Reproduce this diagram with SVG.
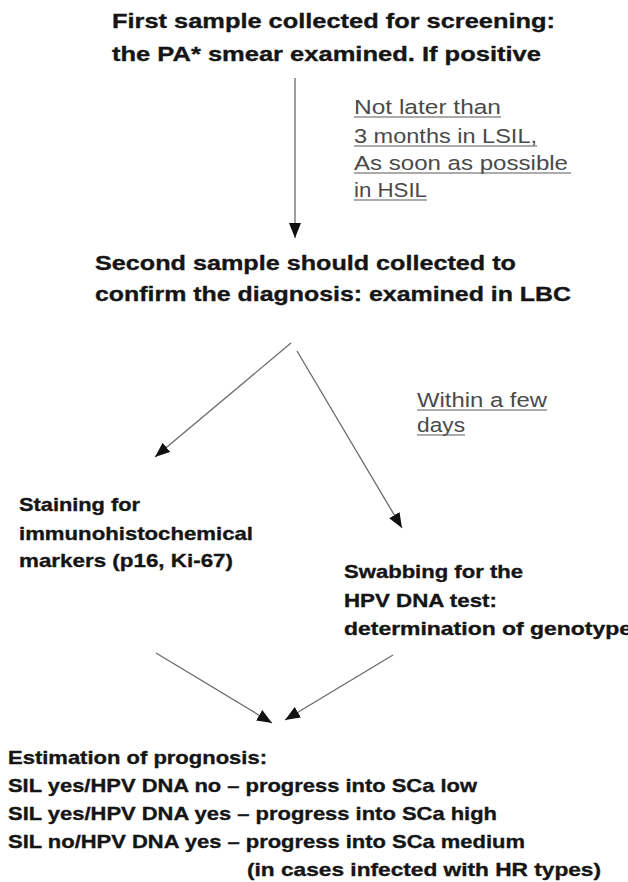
<svg xmlns="http://www.w3.org/2000/svg" width="628" height="882" viewBox="0 0 628 882">
  <defs>
    <style>
      .node { font-family: "Liberation Sans", Arial, sans-serif; font-weight: bold; fill: #151515; stroke: #151515; stroke-width: 0.35; }
      .n20 { font-size: 21px; }
      .n18 { font-size: 19px; }
      .lbl { font-family: "Liberation Sans", Arial, sans-serif; font-size: 20.5px; fill: #4a4a4a; }
      .ul { stroke: #5a5a5a; stroke-width: 1.2; }
      .conn { stroke: #6a6a6a; stroke-width: 1.3; fill: none; marker-end: url(#arrow); }
    </style>
    <marker id="arrow" viewBox="0 0 15 12" refX="15" refY="6" markerWidth="15" markerHeight="12" markerUnits="userSpaceOnUse" orient="auto">
      <path d="M0,0 L15,6 L0,12 Z" fill="#111"/>
    </marker>
  </defs>
  <rect width="628" height="882" fill="#ffffff"/>

  <g id="connectors">
    <line class="conn" x1="295" y1="78" x2="295" y2="238"/>
    <line class="conn" x1="291" y1="343" x2="155" y2="457"/>
    <line class="conn" x1="297" y1="351" x2="402" y2="528"/>
    <line class="conn" x1="156" y1="653" x2="272" y2="723"/>
    <line class="conn" x1="393" y1="655" x2="285" y2="720"/>
  </g>

  <g id="label-timing">
    <text class="lbl" x="354" y="114" textLength="147" lengthAdjust="spacingAndGlyphs">Not later than</text>
    <line class="ul" x1="354" y1="117" x2="501" y2="117"/>
    <text class="lbl" x="354" y="143" textLength="183" lengthAdjust="spacingAndGlyphs">3 months in LSIL,</text>
    <line class="ul" x1="354" y1="146" x2="537" y2="146"/>
    <text class="lbl" x="354" y="170" textLength="214" lengthAdjust="spacingAndGlyphs">As soon as possible</text>
    <line class="ul" x1="354" y1="173" x2="571" y2="173"/>
    <text class="lbl" x="354" y="197" textLength="73" lengthAdjust="spacingAndGlyphs">in HSIL</text>
    <line class="ul" x1="354" y1="200" x2="427" y2="200"/>
  </g>

  <g id="label-days">
    <text class="lbl" x="417" y="407" textLength="130" lengthAdjust="spacingAndGlyphs">Within a few</text>
    <line class="ul" x1="417" y1="410" x2="547" y2="410"/>
    <text class="lbl" x="417" y="432" textLength="48" lengthAdjust="spacingAndGlyphs">days</text>
    <line class="ul" x1="417" y1="435" x2="465" y2="435"/>
  </g>

  <g id="node-first-sample">
    <text class="node n20" x="112" y="28" textLength="443" lengthAdjust="spacingAndGlyphs">First sample collected for screening:</text>
    <text class="node n20" x="112" y="61" textLength="429" lengthAdjust="spacingAndGlyphs">the PA* smear examined. If positive</text>
  </g>

  <g id="node-second-sample">
    <text class="node n20" x="95" y="270" textLength="421" lengthAdjust="spacingAndGlyphs">Second sample should collected to</text>
    <text class="node n20" x="95" y="301" textLength="476" lengthAdjust="spacingAndGlyphs">confirm the diagnosis: examined in LBC</text>
  </g>

  <g id="node-staining">
    <text class="node n18" x="19" y="511" textLength="121" lengthAdjust="spacingAndGlyphs">Staining for</text>
    <text class="node n18" x="19" y="540" textLength="234" lengthAdjust="spacingAndGlyphs">immunohistochemical</text>
    <text class="node n18" x="19" y="567" textLength="214" lengthAdjust="spacingAndGlyphs">markers (p16, Ki-67)</text>
  </g>

  <g id="node-swabbing">
    <text class="node n18" x="344" y="578" textLength="179" lengthAdjust="spacingAndGlyphs">Swabbing for the</text>
    <text class="node n18" x="344" y="607" textLength="153" lengthAdjust="spacingAndGlyphs">HPV DNA test:</text>
    <text class="node n18" x="344" y="635" textLength="288" lengthAdjust="spacingAndGlyphs">determination of genotype</text>
  </g>

  <g id="node-prognosis">
    <text class="node n18" x="8" y="764" textLength="259" lengthAdjust="spacingAndGlyphs">Estimation of prognosis:</text>
    <text class="node n18" x="8" y="792" textLength="469" lengthAdjust="spacingAndGlyphs">SIL yes/HPV DNA no – progress into SCa low</text>
    <text class="node n18" x="8" y="820" textLength="489" lengthAdjust="spacingAndGlyphs">SIL yes/HPV DNA yes – progress into SCa high</text>
    <text class="node n18" x="8" y="848" textLength="517" lengthAdjust="spacingAndGlyphs">SIL no/HPV DNA yes – progress into SCa medium</text>
    <text class="node n18" x="247" y="876" textLength="354" lengthAdjust="spacingAndGlyphs">(in cases infected with HR types)</text>
  </g>
</svg>
